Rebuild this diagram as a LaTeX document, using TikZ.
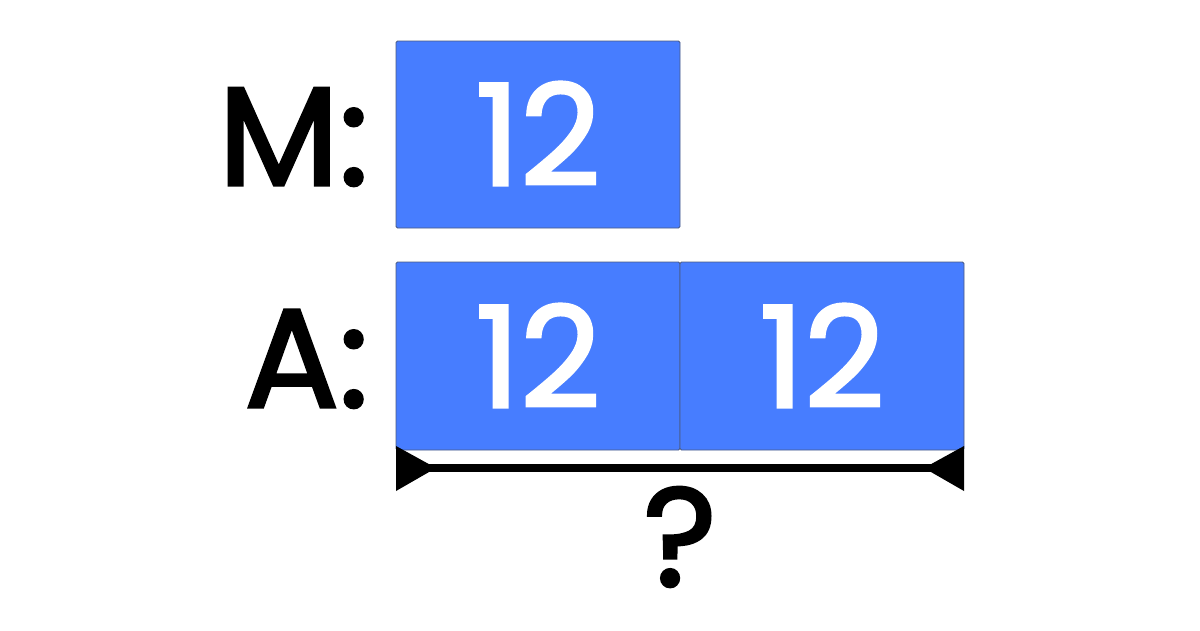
\documentclass[tikz,border=0pt]{standalone}
\usepackage{fontspec}
\setmainfont{Poppins}
\newfontfamily\popm{Poppins}[FakeBold=2.2]
\definecolor{barblue}{HTML}{477DFF}
\definecolor{baredge}{HTML}{4A5A80}
\begin{document}
\begin{tikzpicture}[x=1pt,y=-1pt,
  bar/.style={fill=barblue,draw=baredge,line width=0.9pt,rounded corners=1.5pt},
  big/.style={inner sep=0pt,font=\popm\fontsize{140}{140}\selectfont},
  num/.style={big,text=white,anchor=base},
  lab/.style={big,text=black,anchor=base east},
  tri/.style={fill=black,draw=none}]
\useasboundingbox (0,0) rectangle (1200,630);
% bars
\draw[bar] (396,41) rectangle (680,228);
\draw[bar] (396,262) rectangle (680,450);
\draw[bar] (680,262) rectangle (964,450);
\coordinate (m12) at (538,185);
\coordinate (a12) at (538,407);
\coordinate (b12) at (822,407);
\node[num] (tm) at (m12) {12};
\node[num] (ta) at (a12) {12};
\node[num] (tb) at (b12) {12};
\node[lab] (lm) at (369,185) {M:};
\node[lab] (la) at (369,407) {A:};
% measure
\coordinate (L) at (396,468);
\coordinate (R) at (964,468);
\draw[line width=7.5pt] (L) -- (R);
\fill[tri] (396,446) -- (396,491) -- (436,468) -- cycle;
\fill[tri] (964,446) -- (964,491) -- (924,468) -- cycle;
\node[big,anchor=base,text=black] (q) at (680,586) {?};
\end{tikzpicture}
\end{document}
